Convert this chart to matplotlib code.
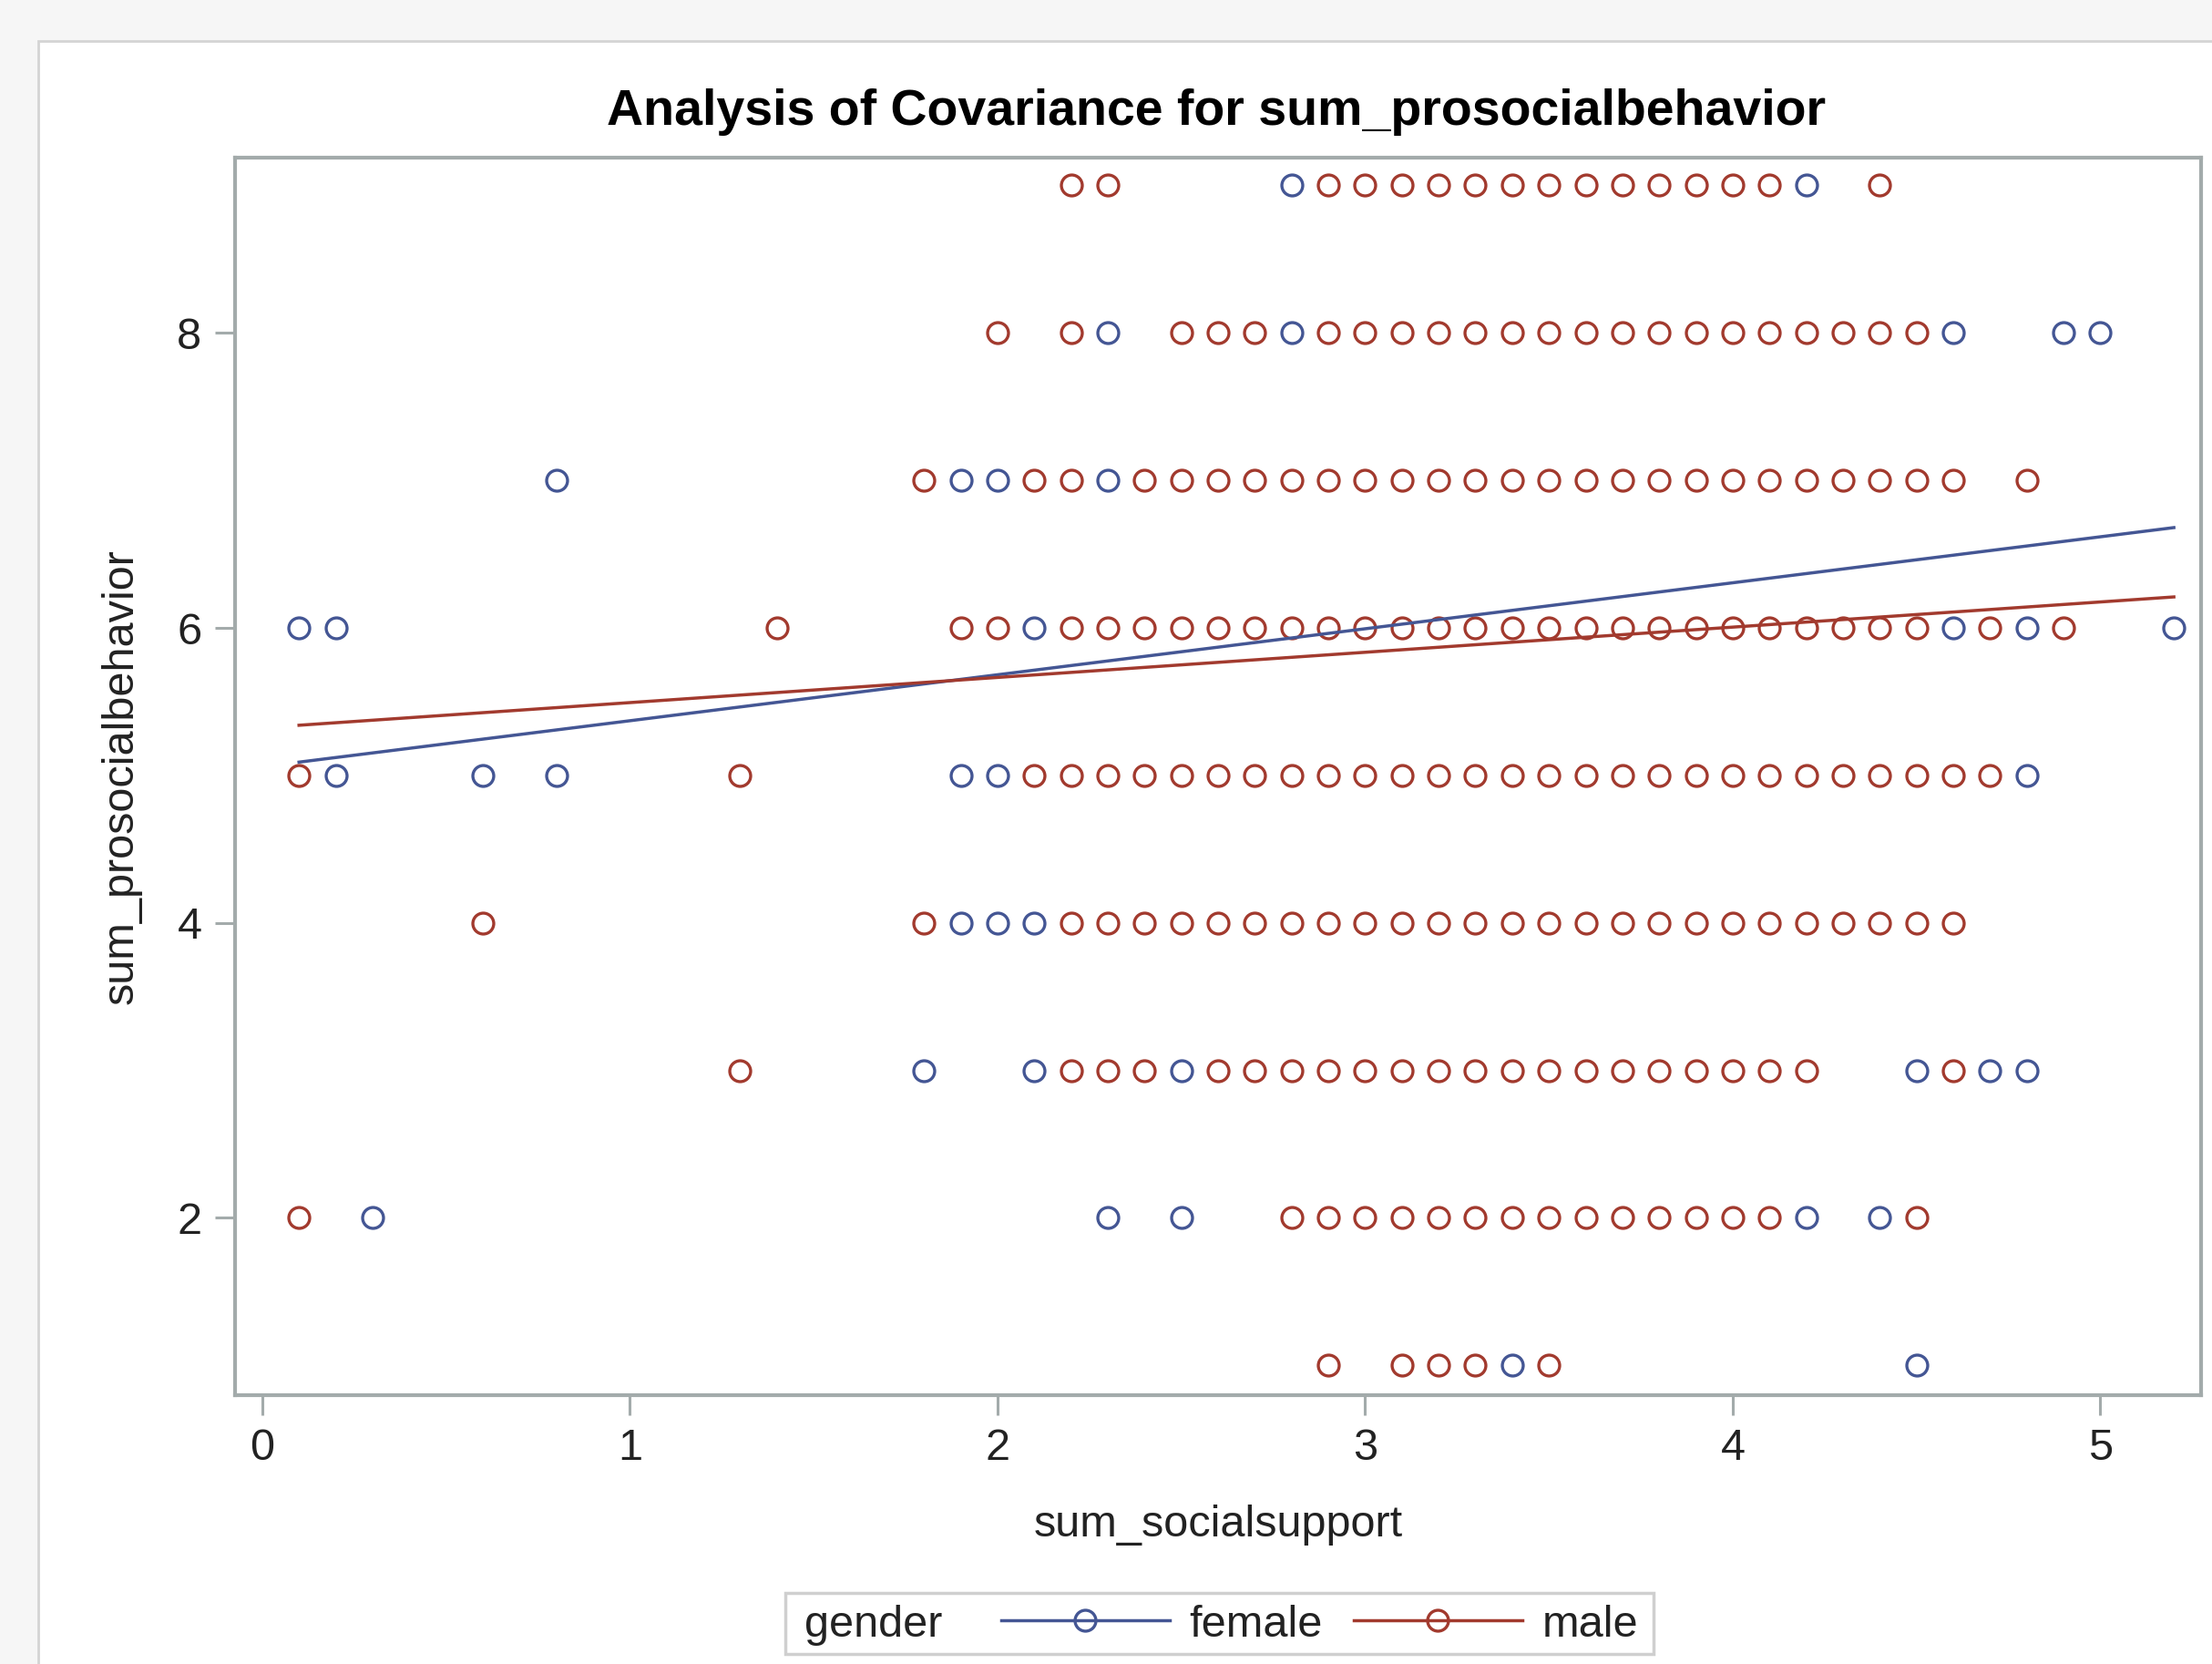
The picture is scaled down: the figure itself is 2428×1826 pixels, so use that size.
import matplotlib
matplotlib.use("Agg")
import matplotlib.pyplot as plt
from matplotlib.lines import Line2D
from matplotlib.patches import Rectangle

plt.rcParams['font.family'] = ['Liberation Sans', 'DejaVu Sans']

# ---------------- data ----------------
female_y9 = [2.8, 4.2]
male_y9 = [2.2, 2.3, 2.9, 3.0, 3.1, 3.2, 3.3, 3.4, 3.5, 3.6, 3.7, 3.8, 3.9, 4.0, 4.1, 4.4]

female_y8 = [2.3, 2.8, 4.6, 4.9, 5.0]
male_y8 = [2.0, 2.2, 2.5, 2.6, 2.7, 2.9, 3.0, 3.1, 3.2, 3.3, 3.4, 3.5, 3.6, 3.7, 3.8,
           3.9, 4.0, 4.1, 4.2, 4.3, 4.4, 4.5]

female_y7 = [0.8, 1.9, 2.0, 2.3]
male_y7 = [1.8, 2.1, 2.2, 2.4, 2.5, 2.6, 2.7, 2.8, 2.9, 3.0, 3.1, 3.2, 3.3, 3.4, 3.5,
           3.6, 3.7, 3.8, 3.9, 4.0, 4.1, 4.2, 4.3, 4.4, 4.5, 4.6, 4.8]

female_y6 = [0.1, 0.2, 2.1, 4.6, 4.8, 5.2]
male_y6 = [1.4, 1.9, 2.0, 2.2, 2.3, 2.4, 2.5, 2.6, 2.7, 2.8, 2.9, 3.0, 3.1, 3.2, 3.3,
           3.4, 3.5, 3.6, 3.7, 3.8, 3.9, 4.0, 4.1, 4.2, 4.3, 4.4, 4.5, 4.7, 4.9]

female_y5 = [0.2, 0.6, 0.8, 1.9, 2.0, 4.8]
male_y5 = [0.1, 1.3, 2.1, 2.2, 2.3, 2.4, 2.5, 2.6, 2.7, 2.8, 2.9, 3.0, 3.1, 3.2, 3.3,
           3.4, 3.5, 3.6, 3.7, 3.8, 3.9, 4.0, 4.1, 4.2, 4.3, 4.4, 4.5, 4.6, 4.7]

female_y4 = [1.9, 2.0, 2.1]
male_y4 = [0.6, 1.8, 2.2, 2.3, 2.4, 2.5, 2.6, 2.7, 2.8, 2.9, 3.0, 3.1, 3.2, 3.3, 3.4,
           3.5, 3.6, 3.7, 3.8, 3.9, 4.0, 4.1, 4.2, 4.3, 4.4, 4.5, 4.6]

female_y3 = [1.8, 2.1, 2.5, 4.5, 4.7, 4.8]
male_y3 = [1.3, 2.2, 2.3, 2.4, 2.6, 2.7, 2.8, 2.9, 3.0, 3.1, 3.2, 3.3, 3.4, 3.5, 3.6,
           3.7, 3.8, 3.9, 4.0, 4.1, 4.2, 4.6]

female_y2 = [0.3, 2.3, 2.5, 4.2, 4.4]
male_y2 = [0.1, 2.8, 2.9, 3.0, 3.1, 3.2, 3.3, 3.4, 3.5, 3.6, 3.7, 3.8, 3.9, 4.0, 4.1, 4.5]

female_y1 = [3.4, 4.5]
male_y1 = [2.9, 3.1, 3.2, 3.3, 3.5]

female_rows = {9: female_y9, 8: female_y8, 7: female_y7, 6: female_y6, 5: female_y5,
               4: female_y4, 3: female_y3, 2: female_y2, 1: female_y1}
male_rows = {9: male_y9, 8: male_y8, 7: male_y7, 6: male_y6, 5: male_y5,
             4: male_y4, 3: male_y3, 2: male_y2, 1: male_y1}

# fitted lines (endpoints)
fit_x = [0.1, 5.2]
female_fit = [5.09, 6.68]
male_fit = [5.34, 6.21]

x_ticks = [0, 1, 2, 3, 4, 5]
y_ticks = [2, 4, 6, 8]

title = "Analysis of Covariance for sum_prosocialbehavior"
x_label = "sum_socialsupport"
y_label = "sum_prosocialbehavior"
legend_title = "gender"
group_labels = ["female", "male"]

# ---------------- style ----------------
BLUE = "#445694"
RED = "#A23A2E"
FRAME = "#a3abab"
TXT = "#222222"

W, H = 2428, 1826
fig = plt.figure(figsize=(W / 100, H / 100), dpi=100, facecolor="#f6f6f6")

# white page panel
fig.patches.append(Rectangle((42 / W, -0.01), 1 - 42 / W + 0.01, 1 - 45 / H + 0.01,
                             transform=fig.transFigure, facecolor="white",
                             edgecolor="#d4d4d4", linewidth=2, zorder=-5))

ax = fig.add_axes([257.6 / W, 1 - 1530.7 / H, (2416 - 257.6) / W, (1530.7 - 172.7) / H])
ax.set_facecolor("white")
ax.set_zorder(1)

def expand(rows):
    xs, ys = [], []
    for yv, xl in rows.items():
        for xv in xl:
            xs.append(xv)
            ys.append(yv)
    return xs, ys

fx, fy = expand(female_rows)
mx, my = expand(male_rows)

ms = 16.5
mew = 2.4
lw = 2.5
ax.plot(fx, fy, linestyle="none", marker="o", markersize=ms, markerfacecolor="none",
        markeredgecolor=BLUE, markeredgewidth=mew, zorder=3)
ax.plot(mx, my, linestyle="none", marker="o", markersize=ms, markerfacecolor="none",
        markeredgecolor=RED, markeredgewidth=mew, zorder=3)
ax.plot(fit_x, female_fit, color=BLUE, linewidth=lw, zorder=4)
ax.plot(fit_x, male_fit, color=RED, linewidth=lw, zorder=4)

ax.set_xlim(-0.075, 5.274)
ax.set_ylim(0.80, 9.19)
ax.set_xticks(x_ticks)
ax.set_yticks(y_ticks)
ax.tick_params(axis="both", length=16, width=2.2, color=FRAME, labelsize=35,
               labelcolor=TXT, pad=10)
for s in ax.spines.values():
    s.set_color(FRAME)
    s.set_linewidth(3)

ax.set_xlabel(x_label, fontsize=35, color=TXT, labelpad=28)
ax.set_ylabel(y_label, fontsize=35, color=TXT, labelpad=28)

fig.text(1335 / W, 1 - 123 / H, title, ha="center", va="center", fontsize=40,
         fontweight="bold", color="black")

# legend box
fig.patches.append(Rectangle((862 / W, 1 - 1815 / H), (1815 - 862) / W, (1815 - 1748) / H,
                             transform=fig.transFigure, facecolor="white",
                             edgecolor="#cfcfcf", linewidth=2.5, zorder=-1))
fig.text(883 / W, 1 - 1783 / H, legend_title, ha="left", va="center", fontsize=35, color=TXT)
handles = [Line2D([], [], color=BLUE, linewidth=lw, marker="o", markersize=ms,
                  markerfacecolor="none", markeredgecolor=BLUE, markeredgewidth=mew),
           Line2D([], [], color=RED, linewidth=lw, marker="o", markersize=ms,
                  markerfacecolor="none", markeredgecolor=RED, markeredgewidth=mew)]
leg = fig.legend(handles, group_labels, loc="center left",
                 bbox_to_anchor=(1099 / W, 1 - 1783 / H), bbox_transform=fig.transFigure,
                 ncol=2, frameon=False, fontsize=35, handlelength=3.8, handletextpad=0.45,
                 columnspacing=0.7, borderpad=0, borderaxespad=0, labelcolor=TXT)

fig.savefig("out.png", dpi=100, facecolor=fig.get_facecolor())
